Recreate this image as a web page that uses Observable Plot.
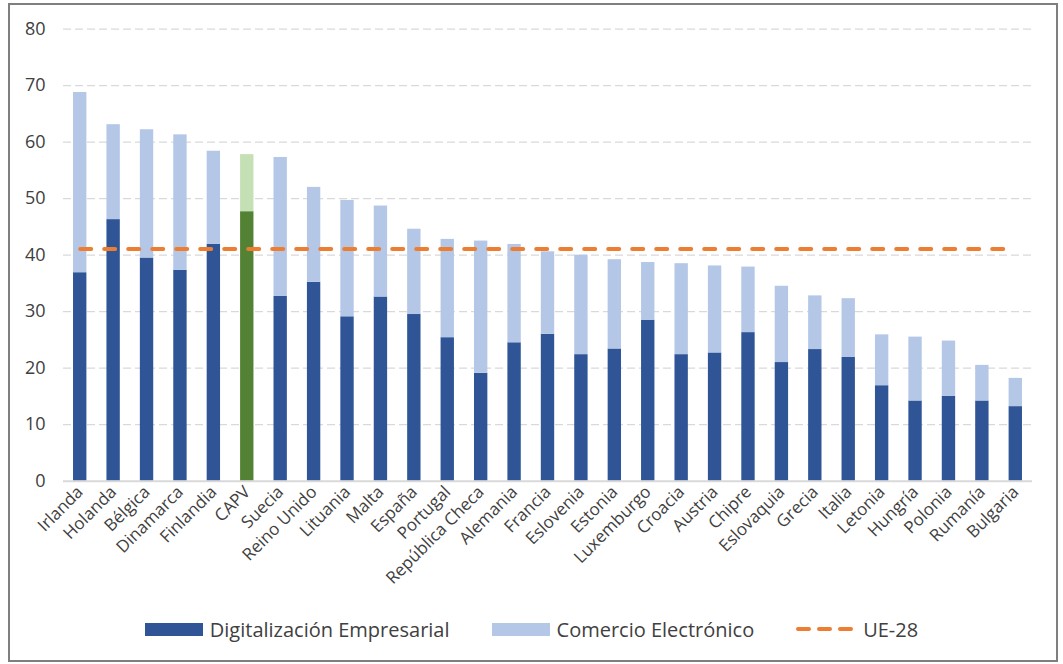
<!DOCTYPE html>
<html><head><meta charset="utf-8">
<script src="https://cdn.jsdelivr.net/npm/d3@7"></script>
<script src="https://cdn.jsdelivr.net/npm/@observablehq/plot@0.6"></script>
<style>
html,body{margin:0;padding:0;background:#fff;}
#wrap{position:relative;width:1063px;height:664px;font-family:"Open Sans",sans-serif;}
#frame{position:absolute;left:8px;top:3px;width:1050px;height:659px;box-sizing:border-box;border:2px solid #7f7f7f;}
#chart{position:absolute;left:0;top:0;}
#legend{position:absolute;left:0;top:615px;width:1063px;height:28px;display:flex;justify-content:center;align-items:center;gap:42px;font-size:20px;color:#404040;}
.item{display:flex;align-items:center;gap:7px;}
.sw{width:58px;height:13px;display:inline-block;}
</style></head><body>
<div id="wrap"><div id="frame"></div><div id="chart"></div><div id="legend"></div></div>
<script>
const countries = ["Irlanda","Holanda","Bélgica","Dinamarca","Finlandia","CAPV","Suecia","Reino Unido","Lituania","Malta","España","Portugal","República Checa","Alemania","Francia","Eslovenia","Estonia","Luxemburgo","Croacia","Austria","Chipre","Eslovaquia","Grecia","Italia","Letonia","Hungría","Polonia","Rumanía","Bulgaria"];
const digitalizacion = [36.9,46.3,39.5,37.3,41.9,47.7,32.7,35.2,29.1,32.6,29.5,25.4,19.1,24.5,26.0,22.4,23.4,28.5,22.4,22.7,26.3,21.0,23.3,21.9,16.9,14.2,15.0,14.2,13.2];
const comercio = [31.9,16.8,22.7,24.0,16.5,10.1,24.6,16.8,20.6,16.1,15.1,17.4,23.4,17.4,14.6,17.6,15.8,10.2,16.1,15.4,11.6,13.5,9.5,10.4,9.0,11.3,9.8,6.3,5.0];
const ue28 = 41.1;
const yTicks = [0,10,20,30,40,50,60,70,80];
const highlight = "CAPV";
const seriesNames = ["Digitalización Empresarial","Comercio Electrónico","UE-28"];

const C = {dark:"#2f5597", light:"#b4c7e7", gDark:"#548235", gLight:"#c5e0b4", ue:"#ed7d31", grid:"#d9d9d9", text:"#404040"};

const rows = [];
countries.forEach((c,i)=>{
  const hi = c===highlight;
  rows.push({country:c, series:seriesNames[0], value:digitalizacion[i], color: hi? C.gDark : C.dark});
  rows.push({country:c, series:seriesNames[1], value:comercio[i], color: hi? C.gLight : C.light});
});

const chart = Plot.plot({
  width:1063, height:610,
  marginLeft:63, marginRight:31, marginTop:28.7, marginBottom:129.3,
  style:{fontFamily:"'Open Sans', sans-serif", fontSize:"17px", color:C.text, background:"transparent", overflow:"visible"},
  x:{domain:countries, paddingInner:0.6, paddingOuter:0.3, round:false, label:null},
  y:{domain:[0,80], label:null},
  marks:[
    Plot.ruleY(yTicks.filter(t=>t>0), {stroke:C.grid, strokeWidth:1.3, strokeDasharray:"8,4"}),
    Plot.barY(rows, {x:"country", y:"value", fill:"color", z:"series"}),
    Plot.ruleY([0], {stroke:C.grid, strokeWidth:2}),
    Plot.lineY(countries, {x:d=>d, y:()=>ue28, stroke:C.ue, strokeWidth:4, strokeDasharray:"11,13", strokeLinecap:"round"}),
    Plot.axisY({ticks:yTicks, tickSize:0, tickPadding:18, fontSize:18, fill:C.text}),
    Plot.axisX({tickSize:0, tickRotate:-45, tickPadding:8, fontSize:17, fill:C.text})
  ]
});
document.getElementById("chart").appendChild(chart);

const legend = document.getElementById("legend");
const swColors = [C.dark, C.light];
seriesNames.forEach((name,i)=>{
  const item = document.createElement("div");
  item.className = "item";
  if (i < 2) {
    const sw = document.createElement("span");
    sw.className = "sw";
    sw.style.background = swColors[i];
    item.appendChild(sw);
  } else {
    const svgNS = "http://www.w3.org/2000/svg";
    const s = document.createElementNS(svgNS, "svg");
    s.setAttribute("width", 60); s.setAttribute("height", 14);
    const l = document.createElementNS(svgNS, "line");
    l.setAttribute("x1", 2); l.setAttribute("x2", 58); l.setAttribute("y1", 7); l.setAttribute("y2", 7);
    l.setAttribute("stroke", C.ue); l.setAttribute("stroke-width", 4);
    l.setAttribute("stroke-dasharray", "11,10"); l.setAttribute("stroke-linecap", "round");
    s.appendChild(l);
    item.appendChild(s);
  }
  const t = document.createElement("span");
  t.textContent = name;
  item.appendChild(t);
  legend.appendChild(item);
});
</script>
</body></html>
